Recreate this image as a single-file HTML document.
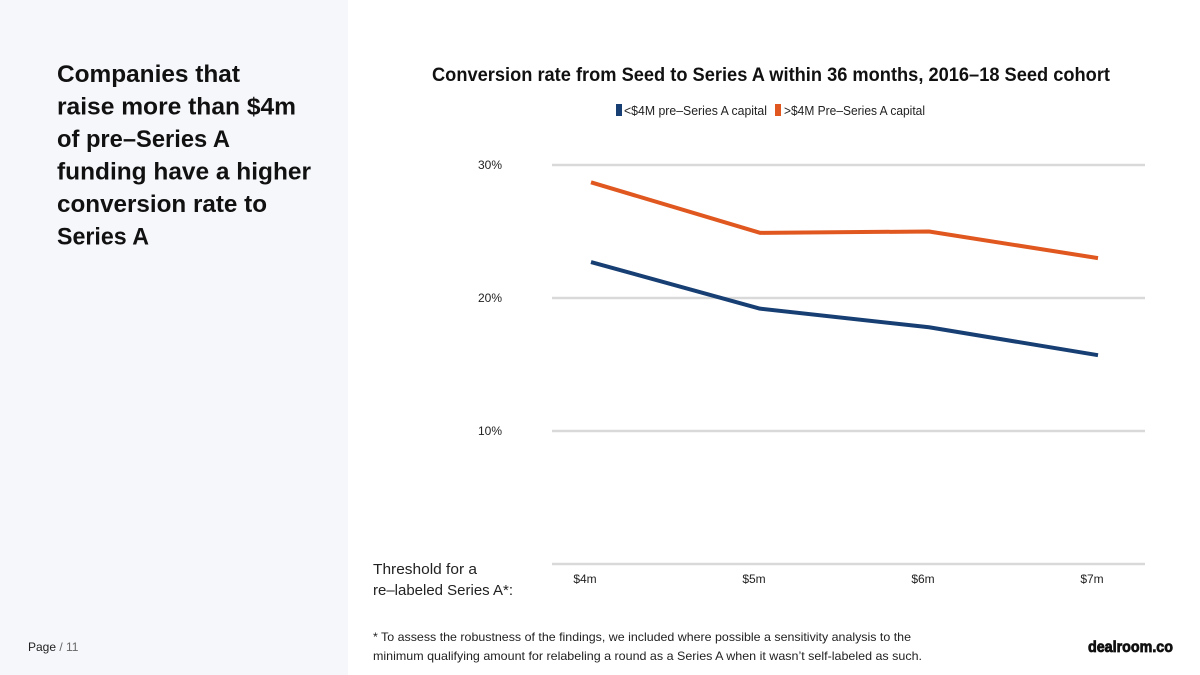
<!DOCTYPE html>
<html><head><meta charset="utf-8"><style>
html,body{margin:0;padding:0;background:#fff}
svg{display:block;font-family:"Liberation Sans",sans-serif}
</style></head><body>
<svg id="chart" width="1200" height="675" viewBox="0 0 1200 675" xmlns="http://www.w3.org/2000/svg">
<rect x="0" y="0" width="348" height="675" fill="#f6f7fb"/>
<g font-weight="bold" font-size="24" fill="#111">
<text x="57" y="82" textLength="183" lengthAdjust="spacingAndGlyphs">Companies that</text>
<text x="57" y="114.5" textLength="239" lengthAdjust="spacingAndGlyphs">raise more than $4m</text>
<text x="57" y="147" textLength="173" lengthAdjust="spacingAndGlyphs">of pre–Series A</text>
<text x="57" y="179.5" textLength="254" lengthAdjust="spacingAndGlyphs">funding have a higher</text>
<text x="57" y="212" textLength="210" lengthAdjust="spacingAndGlyphs">conversion rate to</text>
<text x="57" y="244.5" textLength="92" lengthAdjust="spacingAndGlyphs">Series A</text>
</g>
<text x="432" y="81" font-size="19" font-weight="bold" fill="#111" textLength="678" lengthAdjust="spacingAndGlyphs">Conversion rate from Seed to Series A within 36 months, 2016–18 Seed cohort</text>
<g font-size="13" fill="#222">
<rect x="616" y="104" width="6" height="12" fill="#173f73"/>
<text x="624" y="115" textLength="143" lengthAdjust="spacingAndGlyphs">&lt;$4M pre–Series A capital</text>
<rect x="775" y="104" width="6" height="12" fill="#e0581f"/>
<text x="784" y="115" textLength="141" lengthAdjust="spacingAndGlyphs">&gt;$4M Pre–Series A capital</text>
</g>
<g id="grid"></g>
<g id="series"></g>
<text x="373" y="574" font-size="15" fill="#222" textLength="104" lengthAdjust="spacingAndGlyphs">Threshold for a</text>
<text x="373" y="595" font-size="15" fill="#222" textLength="140" lengthAdjust="spacingAndGlyphs">re–labeled Series A*:</text>
<g font-size="12" fill="#222">
<text x="373" y="641" textLength="538" lengthAdjust="spacingAndGlyphs">* To assess the robustness of the findings, we included where possible a sensitivity analysis to the</text>
<text x="373" y="660" textLength="549" lengthAdjust="spacingAndGlyphs">minimum qualifying amount for relabeling a round as a Series A when it wasn’t self-labeled as such.</text>
</g>
<text x="28" y="651" font-size="12" fill="#222">Page <tspan fill="#666">/ 11</tspan></text>
<text x="1088" y="652" font-size="16" font-weight="bold" fill="#111" stroke="#111" stroke-width="0.8" textLength="85" lengthAdjust="spacingAndGlyphs">dealroom.co</text>
</svg>
<script>
const categories = ["$4m", "$5m", "$6m", "$7m"];
const underSeries = [22.7, 19.2, 17.8, 15.7];
const overSeries = [28.7, 24.9, 25.0, 23.0];
const yTicks = [0, 10, 20, 30];
const yTickLabels = ["", "10%", "20%", "30%"];

const NS = "http://www.w3.org/2000/svg";
const xPos = [591, 762, 932, 1098];
function xScale(i){ return 591 + i * (1098 - 591) / (categories.length - 1); }
function yScale(v){ return 564 - v * 13.3; }
function mk(tag, attrs, parent){
  const e = document.createElementNS(NS, tag);
  for (const k in attrs) e.setAttribute(k, attrs[k]);
  parent.appendChild(e); return e;
}
const grid = document.getElementById("grid");
yTicks.forEach((t, i) => {
  const l = mk("line", {x1: 552, x2: 1145, y1: yScale(t), y2: yScale(t), stroke: "#d9d9d9", "stroke-width": 2.5}, grid);
  
  
  if (yTickLabels[i]) {
    const tx = mk("text", {x: 502, y: yScale(t) + 4, "font-size": 12, fill: "#222", "text-anchor": "end"}, grid);
    tx.textContent = yTickLabels[i];
    
    
  }
});
categories.forEach((c, i) => {
  const tx = mk("text", {x: xScale(i) - 6, y: 583, "font-size": 12, fill: "#222", "text-anchor": "middle"}, grid);
  tx.textContent = c;
  
  
});
const series = document.getElementById("series");
function drawLine(vals, color, name){
  const pts = vals.map((v, i) => xScale(i) + "," + yScale(v)).join(" ");
  const p = mk("polyline", {points: pts, fill: "none", stroke: color, "stroke-width": 4, "stroke-linejoin": "round"}, series);
  
  
}
drawLine(underSeries, "#173f73", "line-under-4m");
drawLine(overSeries, "#e0581f", "line-over-4m");
</script>
</body></html>
